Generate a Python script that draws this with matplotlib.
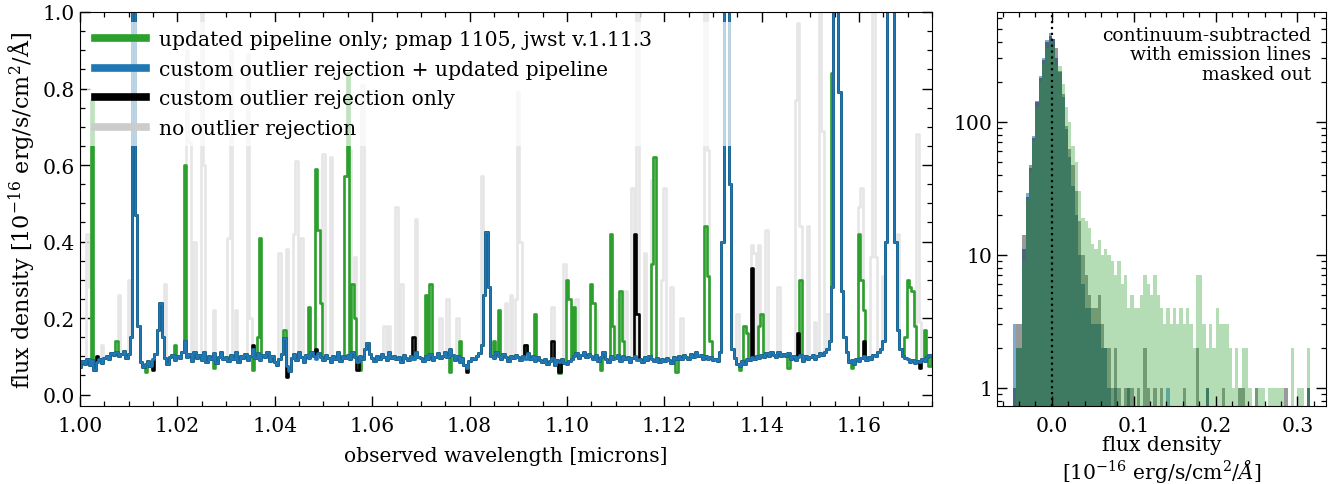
import numpy as np
import matplotlib
matplotlib.use("Agg")
import matplotlib.pyplot as plt
from matplotlib.lines import Line2D
from matplotlib.ticker import MultipleLocator, FormatStrFormatter, FuncFormatter

plt.rcParams['font.family'] = 'DejaVu Serif'
plt.rcParams['mathtext.fontset'] = 'dejavuserif'
plt.rcParams['font.size'] = 14.6

# spectrum sampled every 0.0005 micron from 1.000 to 1.175
WAVE_START = 1.0
WAVE_STEP = 0.0005

# custom outlier rejection + updated pipeline (one row = 0.005 micron)
blue_flux = [
    0.072, 0.088, 0.080, 0.093, 0.078, 0.090, 0.065, 0.085, 0.092, 0.083,
    0.095, 0.100, 0.092, 0.108, 0.104, 0.112, 0.100, 0.106, 0.114, 0.096,
    0.105, 0.150, 3.000, 0.470, 0.180, 0.085, 0.072, 0.080, 0.088, 0.075,
    0.092, 0.105, 0.170, 0.240, 0.150, 0.095, 0.080, 0.098, 0.104, 0.090,
    0.100, 0.095, 0.112, 0.140, 0.098, 0.105, 0.088, 0.110, 0.096, 0.104,
    0.090, 0.112, 0.085, 0.100, 0.094, 0.108, 0.082, 0.097, 0.110, 0.093,
    0.098, 0.088, 0.104, 0.092, 0.110, 0.085, 0.100, 0.095, 0.107, 0.090,
    0.102, 0.118, 0.095, 0.108, 0.090, 0.104, 0.097, 0.112, 0.088, 0.100,
    0.085, 0.078, 0.092, 0.105, 0.148, 0.075, 0.062, 0.095, 0.105, 0.090,
    0.110, 0.098, 0.086, 0.104, 0.095, 0.112, 0.100, 0.092, 0.108, 0.097,
    0.090, 0.104, 0.096, 0.085, 0.100, 0.094, 0.110, 0.088, 0.102, 0.096,
    0.104, 0.092, 0.110, 0.098, 0.086, 0.100, 0.093, 0.120, 0.135, 0.105,
    0.095, 0.088, 0.100, 0.092, 0.105, 0.098, 0.090, 0.112, 0.095, 0.100,
    0.092, 0.098, 0.085, 0.104, 0.096, 0.090, 0.102, 0.094, 0.110, 0.098,
    0.095, 0.088, 0.100, 0.093, 0.106, 0.090, 0.098, 0.108, 0.095, 0.102,
    0.110, 0.098, 0.120, 0.104, 0.090, 0.100, 0.085, 0.095, 0.078, 0.070,
    0.088, 0.095, 0.092, 0.100, 0.108, 0.130, 0.260, 0.425, 0.280, 0.100,
    0.095, 0.110, 0.100, 0.092, 0.105, 0.098, 0.088, 0.100, 0.095, 0.104,
    0.098, 0.090, 0.102, 0.094, 0.108, 0.092, 0.100, 0.088, 0.097, 0.090,
    0.085, 0.094, 0.080, 0.088, 0.095, 0.078, 0.090, 0.084, 0.092, 0.082,
    0.080, 0.088, 0.094, 0.100, 0.108, 0.096, 0.104, 0.112, 0.098, 0.106,
    0.100, 0.092, 0.104, 0.088, 0.098, 0.110, 0.094, 0.086, 0.100, 0.092,
    0.096, 0.104, 0.088, 0.100, 0.092, 0.098, 0.086, 0.095, 0.102, 0.090,
    0.094, 0.086, 0.098, 0.090, 0.100, 0.093, 0.088, 0.096, 0.085, 0.092,
    0.088, 0.095, 0.090, 0.082, 0.098, 0.092, 0.100, 0.094, 0.104, 0.098,
    0.092, 0.106, 0.098, 0.110, 0.100, 0.104, 0.094, 0.100, 0.092, 0.098,
    0.090, 0.094, 0.088, 0.110, 0.400, 3.000, 3.000, 0.550, 0.120, 0.095,
    0.080, 0.075, 0.088, 0.080, 0.094, 0.090, 0.098, 0.092, 0.100, 0.095,
    0.104, 0.098, 0.108, 0.100, 0.112, 0.104, 0.098, 0.110, 0.102, 0.106,
    0.100, 0.108, 0.094, 0.102, 0.090, 0.098, 0.104, 0.088, 0.100, 0.094,
    0.098, 0.104, 0.092, 0.100, 0.108, 0.104, 0.112, 0.120, 0.140, 0.280,
    3.000, 3.000, 0.790, 0.270, 0.150, 0.110, 0.085, 0.090, 0.080, 0.092,
    0.088, 0.095, 0.100, 0.090, 0.098, 0.092, 0.104, 0.100, 0.110, 0.120,
    0.140, 0.400, 3.000, 3.000, 3.000, 0.400, 0.170, 0.120, 0.100, 0.095,
    0.092, 0.085, 0.090, 0.082, 0.088, 0.084, 0.092, 0.088, 0.098, 0.104,
    0.100,
]

# updated pipeline only: pixels where it departs from the curve above
green_spikes = {
    1.0025: 0.77, 1.0075: 0.14, 1.0135: 0.060, 1.0195: 0.13, 1.0215: 0.60,
    1.0275: 0.070, 1.0355: 0.065, 1.0365: 0.15, 1.037: 0.41, 1.042: 0.17,
    1.047: 0.23, 1.0485: 0.59, 1.049: 0.43, 1.0495: 0.24, 1.0545: 0.57,
    1.055: 0.84, 1.056: 0.29, 1.0565: 0.20, 1.0575: 0.065, 1.071: 0.26,
    1.072: 0.29, 1.076: 0.060, 1.078: 0.14, 1.085: 0.14, 1.086: 0.22,
    1.0915: 0.13, 1.0935: 0.21, 1.0985: 0.055, 1.100: 0.30, 1.1005: 0.25,
    1.1015: 0.23, 1.105: 0.29, 1.1055: 0.24, 1.107: 0.065, 1.109: 0.42,
    1.1095: 0.18, 1.111: 0.27, 1.1115: 0.14, 1.1175: 0.34, 1.118: 0.62,
    1.1225: 0.060, 1.1285: 0.44, 1.129: 0.31, 1.1295: 0.14, 1.1355: 0.065,
    1.1365: 0.18, 1.137: 0.16, 1.1395: 0.18, 1.140: 0.21, 1.1455: 0.070,
    1.148: 0.30, 1.1545: 0.84, 1.1585: 0.070, 1.160: 0.42, 1.1605: 0.30,
    1.161: 0.22, 1.1695: 0.15, 1.170: 0.30, 1.1705: 0.28, 1.171: 0.27,
    1.1715: 0.18, 1.1735: 0.17, 1.1745: 0.075,
}

# custom outlier rejection only
black_spikes = {
    1.0035: 0.10, 1.015: 0.065, 1.0355: 0.13, 1.0425: 0.045, 1.0485: 0.12,
    1.057: 0.065, 1.0685: 0.15, 1.0795: 0.058, 1.0915: 0.13, 1.097: 0.14,
    1.0985: 0.060, 1.114: 0.42, 1.1145: 0.21, 1.138: 0.33, 1.1475: 0.16,
    1.161: 0.14, 1.1725: 0.070,
}

# no outlier rejection (on top of the updated-pipeline spikes)
gray_spikes = {
    1.0015: 0.42, 1.002: 0.28, 1.0045: 0.13, 1.008: 0.26, 1.010: 0.30,
    1.0175: 0.29, 1.022: 0.90, 1.0225: 0.66, 1.0235: 0.40, 1.025: 1.20,
    1.0255: 0.60, 1.0275: 0.22, 1.0305: 0.41, 1.031: 0.90, 1.032: 0.22,
    1.0345: 0.89, 1.035: 0.20, 1.041: 0.37, 1.0425: 0.38, 1.044: 0.42,
    1.0445: 0.61, 1.0455: 0.41, 1.050: 0.63, 1.0515: 0.62, 1.0555: 0.64,
    1.0565: 0.36, 1.058: 0.81, 1.0625: 0.18, 1.0635: 0.18, 1.065: 0.49,
    1.066: 0.29, 1.069: 0.46, 1.074: 0.20, 1.0755: 0.25, 1.0775: 0.20,
    1.0825: 0.57, 1.0875: 0.24, 1.0885: 0.26, 1.0895: 0.25, 1.090: 0.79,
    1.0905: 0.40, 1.097: 0.23, 1.0995: 0.34, 1.102: 0.25, 1.106: 0.22,
    1.1105: 0.25, 1.112: 0.27, 1.1135: 0.54, 1.1145: 1.20, 1.116: 0.37,
    1.1175: 0.56, 1.1195: 0.30, 1.120: 0.54, 1.1215: 0.28, 1.1235: 0.20,
    1.1285: 1.20, 1.129: 0.64, 1.135: 0.21, 1.138: 0.39, 1.1385: 0.37,
    1.1395: 0.39, 1.141: 0.43, 1.1435: 0.28, 1.147: 0.77, 1.1475: 0.97,
    1.148: 0.44, 1.1495: 0.44, 1.151: 0.19, 1.152: 1.20, 1.1525: 0.69,
    1.1535: 0.21, 1.160: 0.49, 1.1605: 0.54, 1.1625: 0.36, 1.163: 1.20,
    1.1635: 0.36, 1.165: 0.31, 1.168: 0.42, 1.172: 0.68, 1.1725: 0.19,
}

# histogram of continuum-subtracted flux, 92 bins of 0.004 from -0.048 to 0.320
HIST_START = -0.048
HIST_WIDTH = 0.004
hist_blue = [
    3, 2, 2, 11, 29, 45, 78, 144, 222, 300, 415, 467,   # -0.048 .. -0.004
    421, 300, 238, 155, 88, 54, 33, 20, 10, 6, 4, 4,    # 0.000 .. 0.044
    3, 3, 3, 2, 2, 1, 0, 1, 0, 0, 0, 1,                 # 0.048 .. 0.092
    0, 0, 0, 0, 0, 0, 0, 0, 0, 0, 0, 1,                 # 0.096 .. 0.140
    0, 0, 0, 0, 0, 0, 0, 0, 0, 0, 0, 1,                 # 0.144 .. 0.188
    0, 0, 0, 0, 0, 0, 0, 0, 0, 0, 0, 0,                 # 0.192 .. 0.236
    0, 0, 0, 0, 0, 0, 0, 0, 0, 0, 0, 0,                 # 0.240 .. 0.284
    0, 0, 0, 0, 0, 0, 1, 0,                             # 0.288 .. 0.316
]
hist_black = [
    1, 3, 3, 14, 27, 47, 75, 140, 215, 290, 400, 440,
    421, 360, 240, 162, 93, 63, 47, 30, 18, 10, 7, 5,
    4, 4, 5, 3, 2, 2, 1, 2, 1, 0, 1, 1,
    1, 0, 1, 0, 2, 1, 0, 1, 0, 1, 0, 0,
    0, 0, 0, 0, 1, 0, 0, 0, 2, 0, 0, 1,
    0, 0, 0, 0, 1, 0, 0, 0, 0, 1, 1, 0,
    0, 0, 1, 0, 0, 0, 0, 0, 0, 0, 0, 1,
    0, 0, 0, 0, 0, 0, 1, 0,
]
hist_green = [
    0, 2, 2, 9, 26, 42, 72, 130, 200, 270, 360, 400,
    380, 265, 265, 193, 130, 100, 66, 50, 30, 19, 18, 16,
    12, 11, 13, 10, 11, 10, 9, 7, 9, 6, 7, 4,
    5, 4, 4, 5, 7, 6, 5, 7, 5, 4, 3, 4,
    3, 4, 3, 4, 3, 4, 3, 2, 7, 7, 3, 2,
    3, 2, 4, 3, 3, 3, 2, 1, 2, 1, 2, 2,
    1, 0, 1, 1, 1, 0, 1, 1, 1, 1, 1, 0,
    0, 2, 0, 1, 1, 0, 2, 0,
]

labels = ['updated pipeline only; pmap 1105, jwst v.1.11.3',
          'custom outlier rejection + updated pipeline',
          'custom outlier rejection only',
          'no outlier rejection']

# build the four spectra
blue = np.array(blue_flux)
wave = WAVE_START + WAVE_STEP * np.arange(len(blue))


def with_spikes(base, spikes):
    flux = base.copy()
    for w, f in spikes.items():
        flux[np.argmin(np.abs(wave - w))] = f
    return flux


green = with_spikes(blue, green_spikes)
black = with_spikes(blue, black_spikes)
gray = with_spikes(green, gray_spikes)

fig = plt.figure(figsize=(13.3, 4.85), dpi=100)
ax1 = fig.add_axes([0.0602, 0.1608, 0.6406, 0.8124])
ax2 = fig.add_axes([0.7496, 0.1608, 0.2474, 0.8124])

lw = 1.9
ax1.plot(wave, gray, color='0.9', lw=lw, drawstyle='steps-mid')
ax1.plot(wave, green, color='C2', lw=lw, drawstyle='steps-mid')
ax1.plot(wave, black, color='k', lw=lw, drawstyle='steps-mid')
ax1.plot(wave, blue, color='C0', lw=lw, drawstyle='steps-mid')

ax1.set_xlim(1.0, 1.175)
ax1.set_ylim(-0.03, 1.0)
ax1.set_xlabel('observed wavelength [microns]', labelpad=8)
ax1.set_ylabel('flux density [10$^{-16}$ erg/s/cm$^2$/Å]', fontsize=16)
ax1.xaxis.set_major_locator(MultipleLocator(0.02))
ax1.xaxis.set_minor_locator(MultipleLocator(0.005))
ax1.yaxis.set_major_locator(MultipleLocator(0.2))
ax1.yaxis.set_minor_locator(MultipleLocator(0.05))
ax1.xaxis.set_major_formatter(FormatStrFormatter('%.2f'))
ax1.yaxis.set_major_formatter(FormatStrFormatter('%.1f'))

handles = [Line2D([], [], color='C2', lw=5.5),
           Line2D([], [], color='C0', lw=5.5),
           Line2D([], [], color='k', lw=5.5),
           Line2D([], [], color='0.8', lw=5.5)]
ax1.legend(handles, labels, loc='upper left', bbox_to_anchor=(0.008, 0.0, 0.78, 0.975),
           mode='expand', borderaxespad=0, framealpha=0.7, edgecolor='none',
           fancybox=False, handlelength=2.5, handletextpad=0.65, labelspacing=0.53,
           fontsize=14.6)

# histogram panel
edges = HIST_START + HIST_WIDTH * np.arange(len(hist_blue) + 1)
centers = edges[:-1] + HIST_WIDTH / 2
ax2.hist(centers, bins=edges, weights=hist_blue, histtype='stepfilled', color='C0', alpha=0.6, log=True)
ax2.hist(centers, bins=edges, weights=hist_black, histtype='stepfilled', color='k', alpha=0.4, log=True)
ax2.hist(centers, bins=edges, weights=hist_green, histtype='stepfilled', color='C2', alpha=0.35, log=True)
ax2.axvline(0, color='k', ls=':', lw=1.6)

ax2.set_xlim(-0.067, 0.335)
ax2.set_ylim(0.73, 670)
ax2.xaxis.set_major_locator(MultipleLocator(0.1))
ax2.xaxis.set_minor_locator(MultipleLocator(0.02))
ax2.xaxis.set_major_formatter(FormatStrFormatter('%.1f'))
ax2.yaxis.set_major_formatter(FuncFormatter(lambda v, p: f'{v:g}'))
ax2.set_xlabel('flux density\n[10$^{-16}$ erg/s/cm$^2$/$\\AA$]', linespacing=1.15, labelpad=0)
ax2.text(0.955, 0.965, 'continuum-subtracted\nwith emission lines\nmasked out',
         transform=ax2.transAxes, ha='right', va='top', linespacing=1.1, fontsize=13.5)

for ax in (ax1, ax2):
    ax.tick_params(which='both', direction='in', top=True, right=True)
    ax.tick_params(which='major', length=7, width=1.0)
    ax.tick_params(which='minor', length=3.5, width=0.9)
    ax.tick_params(axis='x', which='major', pad=7)

fig.savefig('out.png', dpi=100)
